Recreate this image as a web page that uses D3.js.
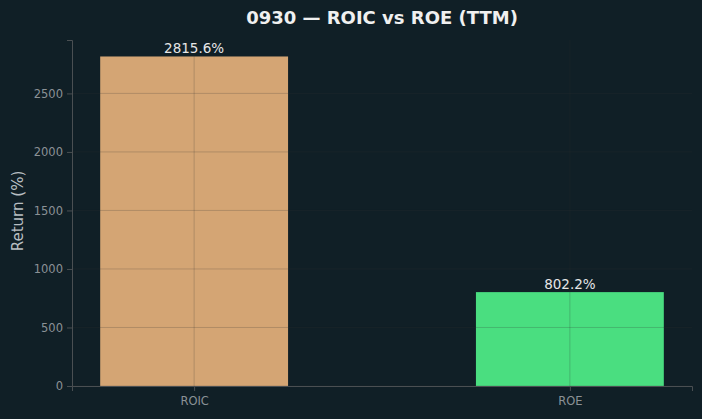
<!DOCTYPE html>
<html>
<head>
<meta charset="utf-8">
<script src="https://cdn.jsdelivr.net/npm/d3@7"></script>
<style>
  body { margin: 0; background: #101f26; }
  svg { display: block; font-family: "DejaVu Sans", sans-serif; }
</style>
</head>
<body>
<div id="chart"></div>
<script>
const categories = ["ROIC", "ROE"];
const values = [2815.6, 802.2];
const barColors = ["#d4a574", "#4ade80"];
const yTicks = [0, 500, 1000, 1500, 2000, 2500];

const width = 702,
  height = 419,
  margin = { top: 40, right: 10, bottom: 33, left: 72 };
const innerW = width - margin.left - margin.right,
  innerH = height - margin.top - margin.bottom;

const svg = d3.select("#chart").
  append("svg").
  attr("width", width).
  attr("height", height).
  style("background-color", "#101f26");

// matplotlib-like limits: categories at 0..n-1, bar width 0.5, 5% margins
const n = categories.length;
const lo = -0.25, hi = n - 1 + 0.25, pad = (hi - lo) * 0.05;
const xScale = d3.scaleLinear().domain([lo - pad, hi + pad]).range([0, innerW]);
const yMax = d3.max(values) * 1.05;
const yScale = d3.scaleLinear().domain([0, yMax]).range([innerH, 0]);

const g = svg.append("g").attr("transform", `translate(${margin.left},${margin.top})`);

// bars
g.selectAll("rect.bar").
  data(values).
  enter().
  append("rect").
  attr("class", "bar").
  attr("x", (d, i) => xScale(i - 0.25)).
  attr("width", xScale(0.25) - xScale(-0.25)).
  attr("y", d => yScale(d)).
  attr("height", d => innerH - yScale(d)).
  style("fill", (d, i) => barColors[i]);

// grid over the bars
g.selectAll("line.hgrid").
  data(yTicks).
  enter().
  append("line").
  attr("x1", 0).attr("x2", innerW).
  attr("y1", d => yScale(d)).attr("y2", d => yScale(d)).
  style("stroke", "#333").
  style("stroke-opacity", 0.22).
  style("stroke-width", 1);

g.selectAll("line.vgrid").
  data(categories).
  enter().
  append("line").
  attr("x1", (d, i) => xScale(i)).attr("x2", (d, i) => xScale(i)).
  attr("y1", 0).attr("y2", innerH).
  style("stroke", "#333").
  style("stroke-opacity", 0.22).
  style("stroke-width", 1);

// value labels
g.selectAll("text.val").
  data(values).
  enter().
  append("text").
  attr("x", (d, i) => xScale(i)).
  attr("y", d => yScale(d) - 3).
  attr("text-anchor", "middle").
  style("fill", "#e6e6e6").
  style("font-size", "13.5px").
  text(d => d.toFixed(1) + "%");

// axes
const yAxis = g.append("g").
  call(d3.axisLeft(yScale).tickValues(yTicks).tickSize(5).tickPadding(4).tickFormat(d3.format("d")));
const xAxis = g.append("g").
  attr("transform", `translate(0,${innerH})`).
  call(d3.axisBottom(xScale).tickValues(d3.range(n)).tickSize(5).tickPadding(6).tickFormat(i => categories[i]));

[xAxis, yAxis].forEach(a => {
  a.select(".domain").style("stroke", "#4a4f52");
  a.selectAll(".tick line").style("stroke", "#4a4f52");
  a.selectAll(".tick text").style("fill", "#8b9196").style("font-size", "11.5px").style("font-family", "DejaVu Sans");
});

// y label
svg.append("text").
  attr("transform", `translate(23,${margin.top + innerH / 2 - 2}) rotate(-90)`).
  attr("text-anchor", "middle").
  style("fill", "#b8bec2").
  style("font-size", "15px").
  text("Return (%)");

// title
svg.append("text").
  attr("x", 382).
  attr("y", 24).
  attr("text-anchor", "middle").
  style("fill", "#f0f0f0").
  style("font-size", "18px").
  style("font-weight", "bold").
  text("0930 \u2014 ROIC vs ROE (TTM)");
</script>
</body>
</html>
